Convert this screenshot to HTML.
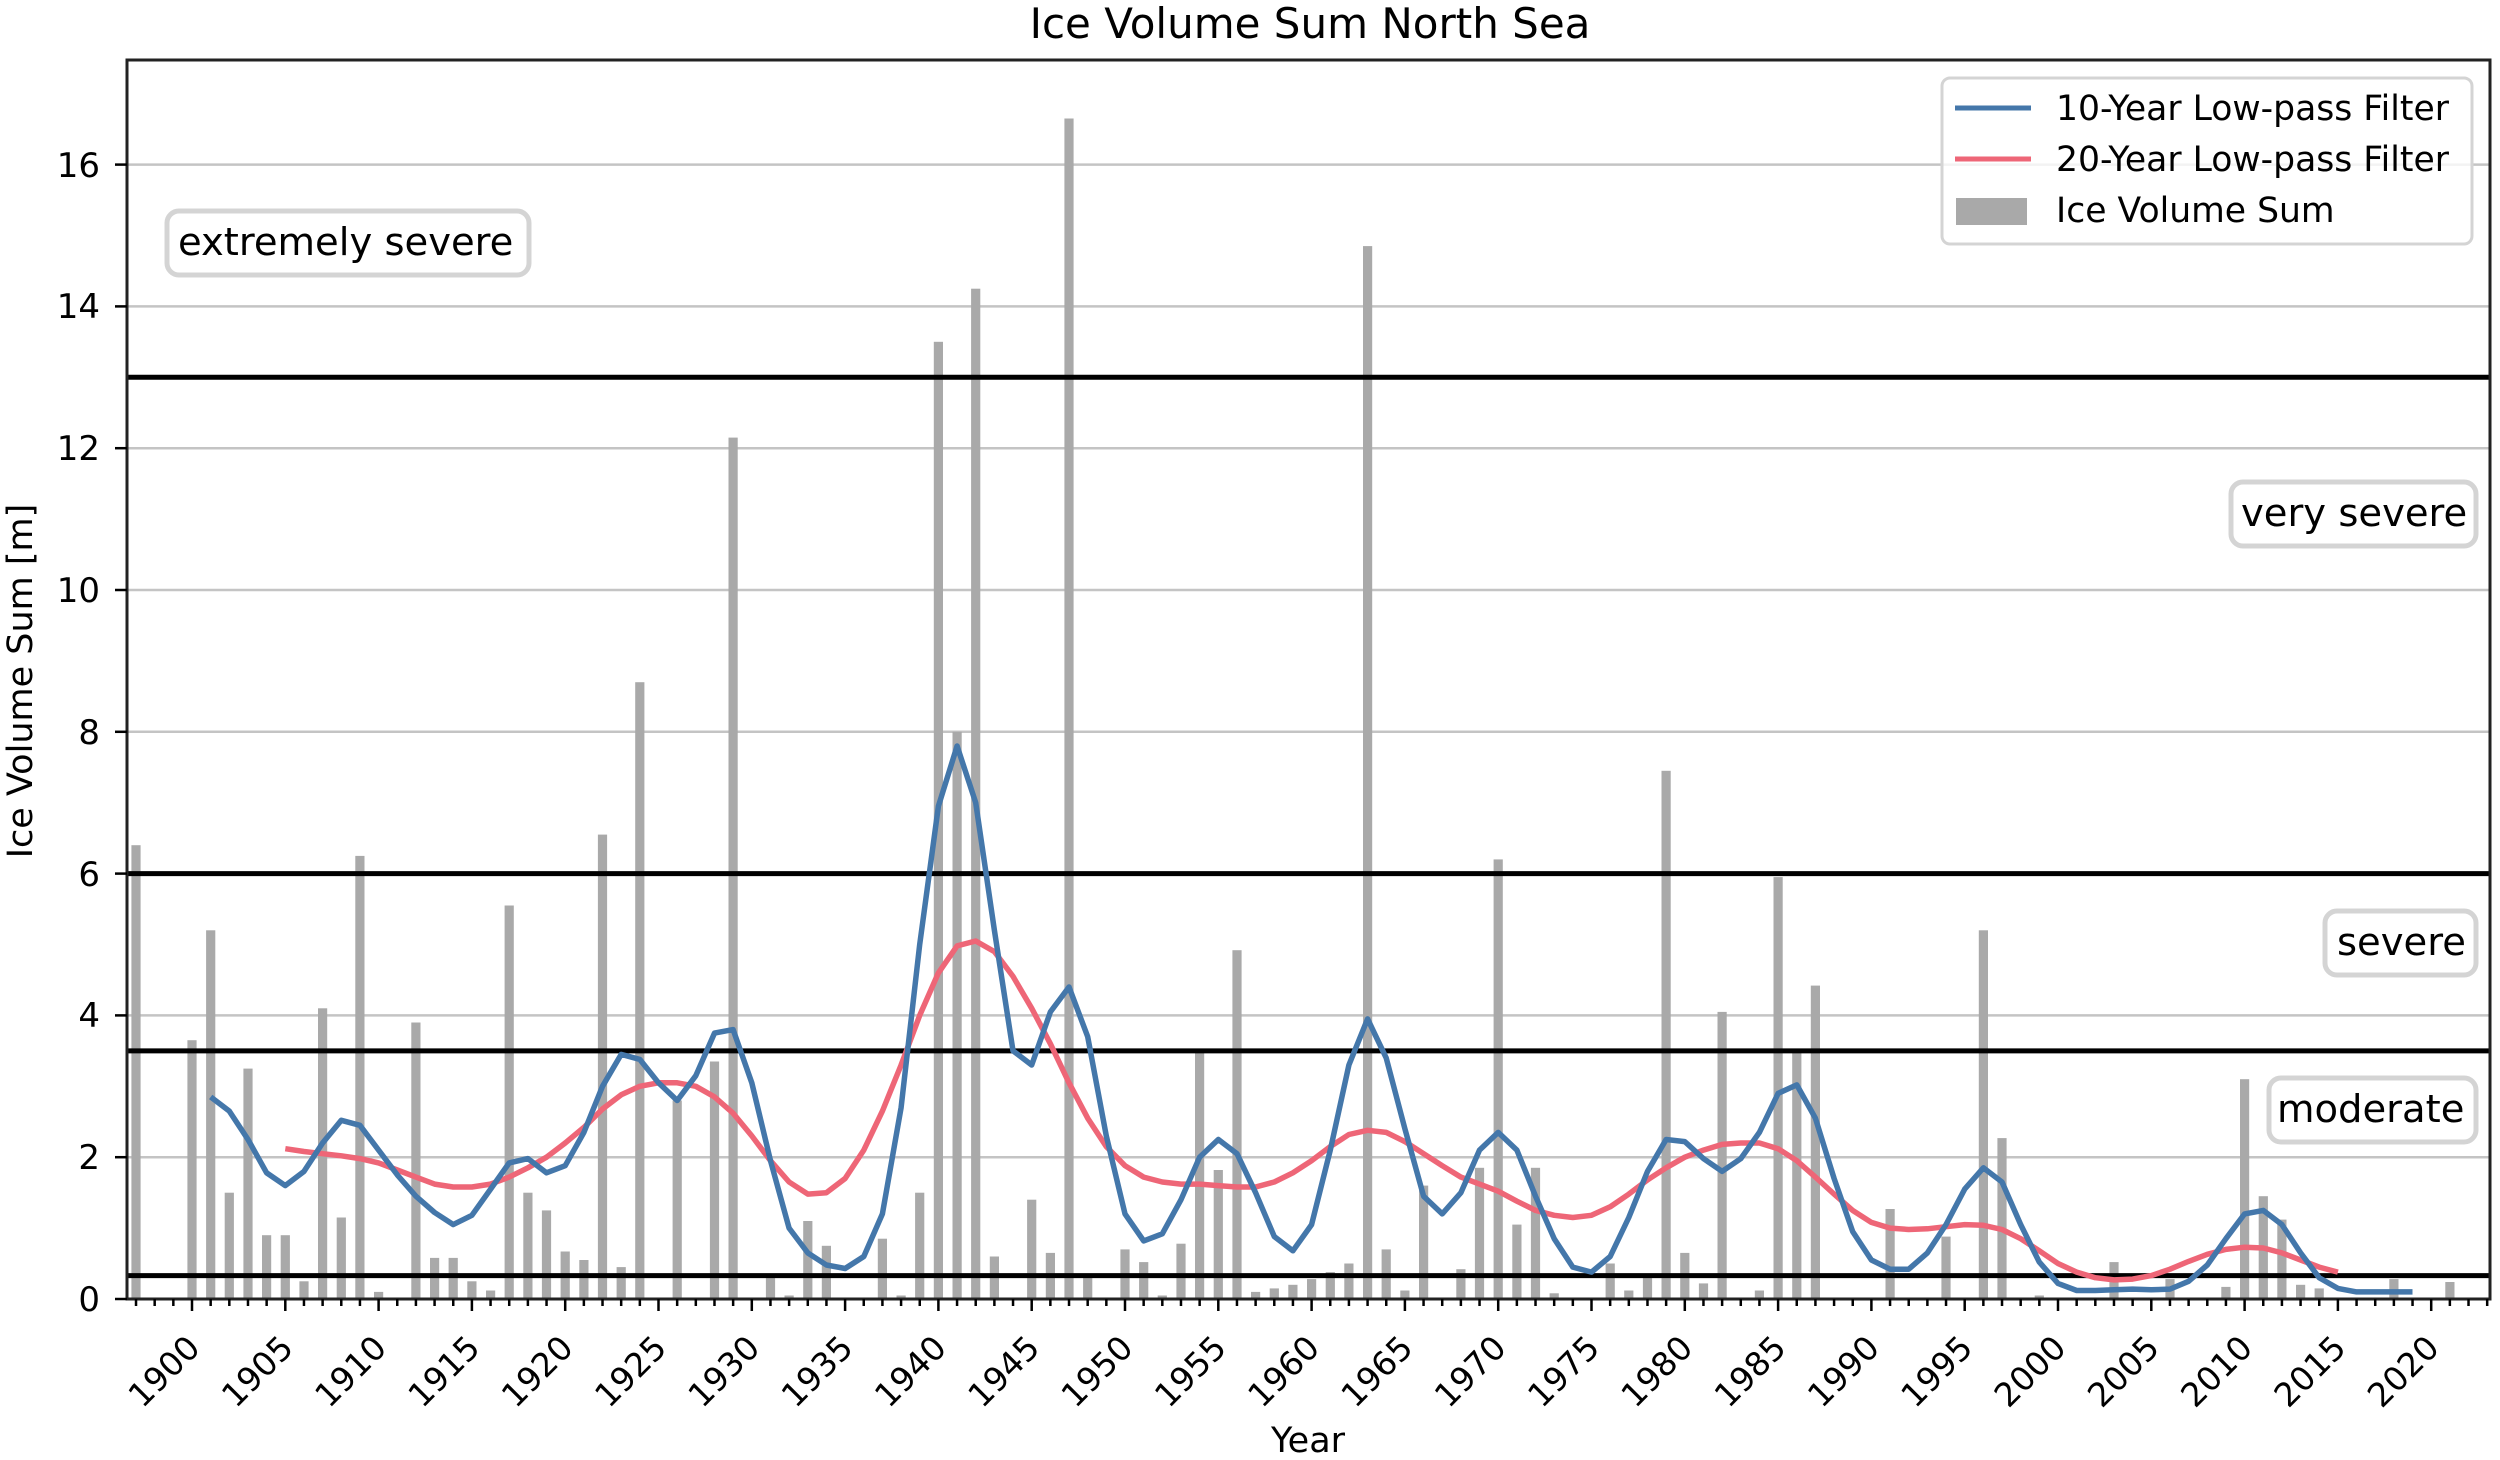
<!DOCTYPE html>
<html><head><meta charset="utf-8"><style>
html,body{margin:0;padding:0;background:#fff;}
svg{display:block;}
text{font-family:"DejaVu Sans","Liberation Sans",sans-serif;fill:#000;}
</style></head><body>
<svg id="s" width="2500" height="1460" viewBox="0 0 2500 1460" xmlns="http://www.w3.org/2000/svg">
<rect width="2500" height="1460" fill="#fff"/>
<g id="grid" stroke="#c4c4c4" stroke-width="2.5">
<line x1="127" x2="2490" y1="1157.2" y2="1157.2"/>
<line x1="127" x2="2490" y1="1015.4" y2="1015.4"/>
<line x1="127" x2="2490" y1="873.6" y2="873.6"/>
<line x1="127" x2="2490" y1="731.8" y2="731.8"/>
<line x1="127" x2="2490" y1="590" y2="590"/>
<line x1="127" x2="2490" y1="448.2" y2="448.2"/>
<line x1="127" x2="2490" y1="306.4" y2="306.4"/>
<line x1="127" x2="2490" y1="164.6" y2="164.6"/>
</g>
<g id="bars" fill="#a9a9a9"></g>
<g stroke="#000" stroke-width="5">
<line x1="127" x2="2490" y1="377.3" y2="377.3"/>
<line x1="127" x2="2490" y1="873.6" y2="873.6"/>
<line x1="127" x2="2490" y1="1050.9" y2="1050.9"/>
<line x1="127" x2="2490" y1="1275.6" y2="1275.6"/>
</g>
<path id="red" fill="none" stroke="#ee6677" stroke-width="5.5" stroke-linejoin="round"/>
<path id="blue" fill="none" stroke="#4477aa" stroke-width="5.5" stroke-linejoin="round"/>
<rect x="127" y="60" width="2363" height="1239" fill="none" stroke="#222" stroke-width="3"/>
<g id="ticks" stroke="#000" stroke-width="2.5"></g>
<g font-size="34" text-anchor="end">
<text x="100" y="1311">0</text>
<text x="100" y="1169">2</text>
<text x="100" y="1027">4</text>
<text x="100" y="886">6</text>
<text x="100" y="744">8</text>
<text x="100" y="602">10</text>
<text x="100" y="460">12</text>
<text x="100" y="318">14</text>
<text x="100" y="177">16</text>
</g>
<g font-size="33" text-anchor="end">
<text x="185" y="1333" dy="0.72em" transform="rotate(-45 185 1333)">1900</text>
<text x="278.3" y="1333" dy="0.72em" transform="rotate(-45 278.3 1333)">1905</text>
<text x="371.6" y="1333" dy="0.72em" transform="rotate(-45 371.6 1333)">1910</text>
<text x="464.9" y="1333" dy="0.72em" transform="rotate(-45 464.9 1333)">1915</text>
<text x="558.2" y="1333" dy="0.72em" transform="rotate(-45 558.2 1333)">1920</text>
<text x="651.5" y="1333" dy="0.72em" transform="rotate(-45 651.5 1333)">1925</text>
<text x="744.8" y="1333" dy="0.72em" transform="rotate(-45 744.8 1333)">1930</text>
<text x="838.1" y="1333" dy="0.72em" transform="rotate(-45 838.1 1333)">1935</text>
<text x="931.4" y="1333" dy="0.72em" transform="rotate(-45 931.4 1333)">1940</text>
<text x="1024.7" y="1333" dy="0.72em" transform="rotate(-45 1024.7 1333)">1945</text>
<text x="1118" y="1333" dy="0.72em" transform="rotate(-45 1118 1333)">1950</text>
<text x="1211.3" y="1333" dy="0.72em" transform="rotate(-45 1211.3 1333)">1955</text>
<text x="1304.6" y="1333" dy="0.72em" transform="rotate(-45 1304.6 1333)">1960</text>
<text x="1397.9" y="1333" dy="0.72em" transform="rotate(-45 1397.9 1333)">1965</text>
<text x="1491.2" y="1333" dy="0.72em" transform="rotate(-45 1491.2 1333)">1970</text>
<text x="1584.5" y="1333" dy="0.72em" transform="rotate(-45 1584.5 1333)">1975</text>
<text x="1677.8" y="1333" dy="0.72em" transform="rotate(-45 1677.8 1333)">1980</text>
<text x="1771.1" y="1333" dy="0.72em" transform="rotate(-45 1771.1 1333)">1985</text>
<text x="1864.4" y="1333" dy="0.72em" transform="rotate(-45 1864.4 1333)">1990</text>
<text x="1957.7" y="1333" dy="0.72em" transform="rotate(-45 1957.7 1333)">1995</text>
<text x="2051" y="1333" dy="0.72em" transform="rotate(-45 2051 1333)">2000</text>
<text x="2144.3" y="1333" dy="0.72em" transform="rotate(-45 2144.3 1333)">2005</text>
<text x="2237.6" y="1333" dy="0.72em" transform="rotate(-45 2237.6 1333)">2010</text>
<text x="2330.9" y="1333" dy="0.72em" transform="rotate(-45 2330.9 1333)">2015</text>
<text x="2424.2" y="1333" dy="0.72em" transform="rotate(-45 2424.2 1333)">2020</text>
</g>
<text x="1310" y="38" font-size="42" text-anchor="middle">Ice Volume Sum North Sea</text>
<text x="1308" y="1452" font-size="35" text-anchor="middle">Year</text>
<text x="0" y="0" font-size="35" text-anchor="middle" transform="translate(32 681) rotate(-90)">Ice Volume Sum [m]</text>
<g stroke="#d4d4d4" stroke-width="5" fill="#fff">
<rect x="167" y="211" width="362" height="64" rx="12"/>
<rect x="2231" y="482" width="245" height="64" rx="12"/>
<rect x="2325" y="911" width="151" height="64" rx="12"/>
<rect x="2269" y="1078" width="207" height="64" rx="12"/>
</g>
<g font-size="38.5">
<text x="178" y="255">extremely severe</text>
<text x="2241" y="526">very severe</text>
<text x="2337" y="955">severe</text>
<text x="2277" y="1122">moderate</text>
</g>
<rect x="1942" y="78" width="530" height="166" rx="8" fill="#fff" fill-opacity="0.8" stroke="#d4d4d4" stroke-width="3"/>
<line x1="1955" x2="2031" y1="108" y2="108" stroke="#4477aa" stroke-width="5"/>
<line x1="1955" x2="2031" y1="159" y2="159" stroke="#ee6677" stroke-width="5"/>
<rect x="1956" y="198" width="71" height="27" fill="#a9a9a9"/>
<g font-size="34.6">
<text x="2056" y="120">10-Year Low-pass Filter</text>
<text x="2056" y="171">20-Year Low-pass Filter</text>
<text x="2056" y="222">Ice Volume Sum</text>
</g>
</svg>
<script>
(function(){
var NS="http://www.w3.org/2000/svg";
function X(y){return 192+(y-1900)*18.66;}
function Y(v){return 1299-v*70.9;}
var bars={1897:6.4,1900:3.65,1901:5.2,1902:1.5,1903:3.25,1904:0.9,1905:0.9,1906:0.25,1907:4.1,1908:1.15,1909:6.25,1910:0.1,1912:3.9,1913:0.58,1914:0.58,1915:0.25,1916:0.12,1917:5.55,1918:1.5,1919:1.25,1920:0.67,1921:0.55,1922:6.55,1923:0.45,1924:8.7,1926:2.8,1928:3.35,1929:12.15,1931:0.3,1932:0.05,1933:1.1,1934:0.75,1935:0.02,1936:0.02,1937:0.85,1938:0.05,1939:1.5,1940:13.5,1941:8.0,1942:14.25,1943:0.6,1945:1.4,1946:0.65,1947:16.65,1948:0.35,1950:0.7,1951:0.52,1952:0.05,1953:0.78,1954:3.5,1955:1.82,1956:4.92,1957:0.1,1958:0.15,1959:0.2,1960:0.28,1961:0.38,1962:0.5,1963:14.85,1964:0.7,1965:0.12,1966:1.6,1968:0.42,1969:1.85,1970:6.2,1971:1.05,1972:1.85,1973:0.08,1976:0.5,1977:0.12,1978:0.35,1979:7.45,1980:0.65,1981:0.22,1982:4.05,1984:0.12,1985:5.95,1986:3.5,1987:4.42,1991:1.27,1994:0.88,1996:5.2,1997:2.27,1999:0.05,2003:0.52,2006:0.28,2009:0.17,2010:3.1,2011:1.45,2012:1.12,2013:0.2,2014:0.15,2018:0.28,2021:0.24};
var g=document.getElementById('bars');
for(var k in bars){var r=document.createElementNS(NS,'rect');var x=X(+k),v=bars[k];r.setAttribute('x',(x-4.6).toFixed(1));r.setAttribute('y',Y(v).toFixed(1));r.setAttribute('width','9.2');r.setAttribute('height',(v*70.9).toFixed(1));g.appendChild(r);}
var blue=[2.85,2.65,2.25,1.78,1.6,1.8,2.2,2.52,2.45,2.1,1.75,1.45,1.22,1.05,1.18,1.55,1.92,1.98,1.78,1.88,2.35,3.0,3.45,3.38,3.05,2.8,3.15,3.75,3.8,3.05,1.95,1.0,0.65,0.48,0.43,0.6,1.2,2.7,5.0,6.95,7.8,7.0,5.2,3.5,3.3,4.05,4.4,3.7,2.3,1.2,0.82,0.92,1.4,2.0,2.25,2.05,1.5,0.88,0.68,1.05,2.1,3.3,3.95,3.4,2.4,1.45,1.2,1.5,2.1,2.35,2.1,1.45,0.85,0.45,0.38,0.6,1.15,1.8,2.25,2.22,1.98,1.8,1.98,2.35,2.9,3.02,2.55,1.7,0.95,0.55,0.42,0.42,0.65,1.05,1.55,1.85,1.65,1.05,0.52,0.22,0.12,0.12,0.13,0.14,0.13,0.14,0.25,0.48,0.85,1.2,1.25,1.05,0.65,0.3,0.15,0.1,0.1,0.1,0.1];
var red=[2.12,2.08,2.05,2.02,1.98,1.92,1.82,1.72,1.62,1.58,1.58,1.62,1.72,1.85,2.0,2.2,2.42,2.68,2.88,3.0,3.05,3.05,3.0,2.85,2.62,2.3,1.95,1.65,1.48,1.5,1.7,2.1,2.65,3.3,4.0,4.6,4.98,5.05,4.9,4.55,4.1,3.6,3.05,2.55,2.15,1.88,1.72,1.65,1.62,1.62,1.6,1.58,1.58,1.65,1.78,1.95,2.15,2.32,2.38,2.35,2.22,2.05,1.88,1.72,1.62,1.52,1.38,1.25,1.18,1.15,1.18,1.3,1.48,1.68,1.85,2.0,2.1,2.18,
2.2,2.2,2.12,1.95,1.72,1.48,1.25,1.08,1.0,0.98,0.99,1.02,1.05,1.04,0.98,0.85,0.68,0.5,0.38,0.3,0.27,0.28,0.33,0.42,0.53,0.63,0.7,0.73,0.72,0.65,0.55,0.45,0.38];
function path(arr,start){var d='';for(var i=0;i<arr.length;i++){d+=(i?'L':'M')+X(start+i).toFixed(1)+' '+Y(arr[i]).toFixed(1);}return d;}
document.getElementById('blue').setAttribute('d',path(blue,1901));
document.getElementById('red').setAttribute('d',path(red,1905));
var t=document.getElementById('ticks');
function ln(x1,y1,x2,y2){var l=document.createElementNS(NS,'line');l.setAttribute('x1',x1);l.setAttribute('y1',y1);l.setAttribute('x2',x2);l.setAttribute('y2',y2);t.appendChild(l);}
for(var y=1897;y<=2023;y++){var x=X(y);ln(x,1299,x,(y%5==0)?1311:1306);}
for(var v=0;v<=16;v+=2){ln(115,Y(v),127,Y(v));}
})();
</script>
</body></html>
